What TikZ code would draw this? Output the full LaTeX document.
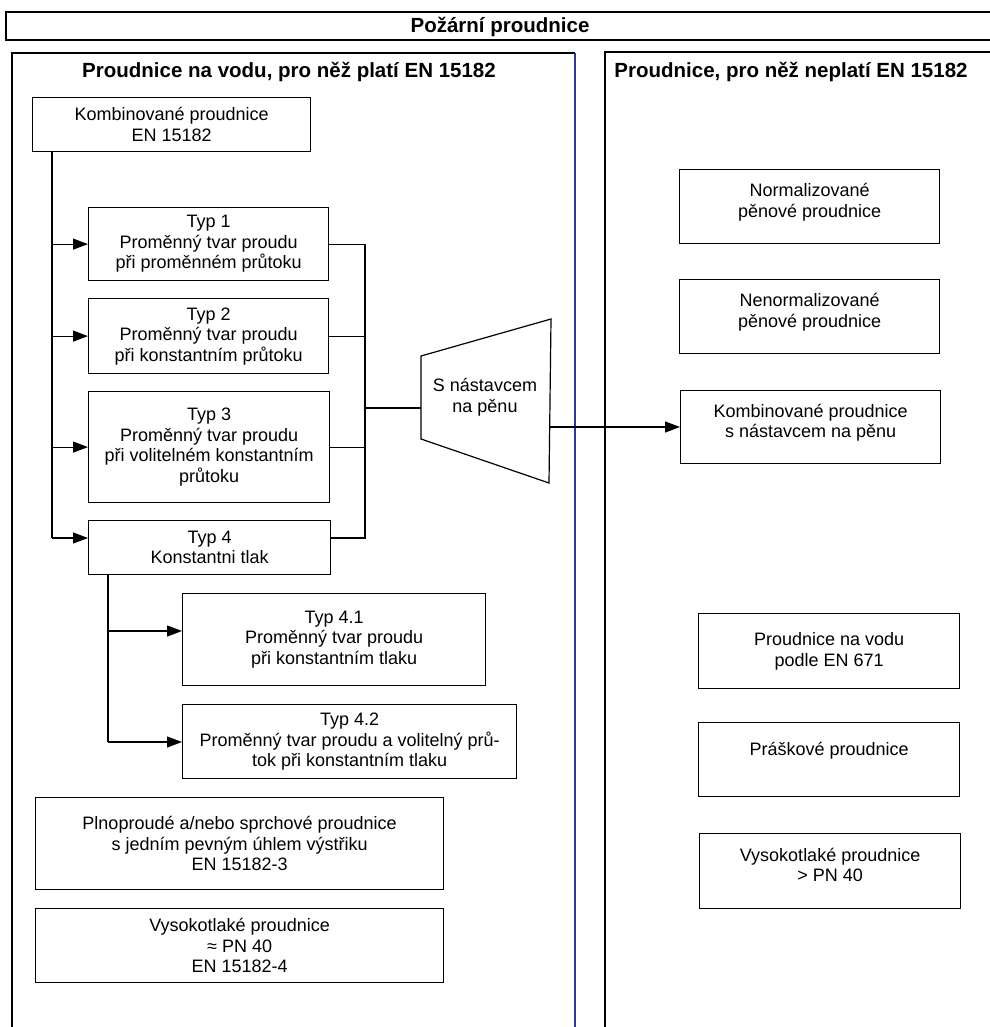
\documentclass[tikz,border=0pt]{standalone}
\usepackage{fontspec}
\setmainfont{Liberation Sans}
\usetikzlibrary{arrows.meta}
\definecolor{panelblue}{rgb}{0.18,0.22,0.55}
\begin{document}
\begin{tikzpicture}[x=1pt,y=-1pt,
  every node/.style={font=\fontsize{18}{20.5}\selectfont, align=center, inner sep=0pt},
  bx/.style 2 args={draw, line width=1.2pt, minimum width=#1, minimum height=#2, anchor=north west},
  ttl/.style={font=\fontsize{20.5}{24}\selectfont\bfseries},
  ln/.style={line width=1.2pt},
  arr/.style={line width=1.2pt, -{Triangle[length=15pt,width=11pt]}}
]
\useasboundingbox (0,0) rectangle (989,1027);

% frames
\draw[ln] (1000,12) -- (6,12) -- (6,40) -- (1000,40);
\draw[ln] (12,1035) -- (12,53) -- (575,53);
\draw[ln, panelblue] (575,53) -- (575,1035);
\draw[ln] (605,1035) -- (605,52) -- (1000,52);

\node[ttl] (title) at (500,27) {Požární proudnice};
\node[ttl] (ltitle) at (289,72) {Proudnice na vodu, pro něž platí EN 15182};
\node[ttl] (rtitle) at (791,72) {Proudnice, pro něž neplatí EN 15182};

% left boxes
\node[bx={278pt}{54pt}] (komb) at (32,97) {Kombinované proudnice\\EN 15182};
\node[bx={240pt}{73pt}] (typ1) at (88,207) {Typ 1\\Proměnný tvar proudu\\při proměnném průtoku};
\node[bx={240pt}{75pt}] (typ2) at (88,298) {Typ 2\\Proměnný tvar proudu\\při konstantním průtoku};
\node[bx={241pt}{111pt}] (typ3) at (88,391) {Typ 3\\Proměnný tvar proudu\\při volitelném konstantním\\průtoku};
\node[bx={242pt}{54pt}] (typ4) at (88,520) {Typ 4\\Konstantni tlak};
\node[bx={303pt}{92pt}] (typ41) at (182,593) {Typ 4.1\\Proměnný tvar proudu\\při konstantním tlaku};
\node[bx={334pt}{74pt}] (typ42) at (182,704) {Typ 4.2\\Proměnný tvar proudu a volitelný prů-\\tok při konstantním tlaku};
\node[bx={408pt}{92pt}] (pln) at (35,797) {Plnoproudé a/nebo sprchové proudnice\\s jedním pevným úhlem výstřiku\\EN 15182-3};
\node[bx={408pt}{74pt}] (vys1) at (35,908) {Vysokotlaké proudnice\\≈ PN 40\\EN 15182-4};

% right boxes
\node[bx={260pt}{74pt}] (norm) at (679,169) {Normalizované\\pěnové proudnice\\[-8pt]\mbox{}};
\node[bx={260pt}{74pt}] (nenorm) at (679,279) {Nenormalizované\\pěnové proudnice\\[-8pt]\mbox{}};
\node[bx={260pt}{73pt}] (kombp) at (680,390) {Kombinované proudnice\\s nástavcem na pěnu\\[-8pt]\mbox{}};
\node[bx={261pt}{75pt}] (en671) at (698,613) {Proudnice na vodu\\podle EN 671};
\node[bx={261pt}{74pt}] (prask) at (698,722) {Práškové proudnice\\\mbox{}};
\node[bx={261pt}{75pt}] (vys2) at (699,833) {Vysokotlaké proudnice\\> PN 40\\[-8pt]\mbox{}};

% foam attachment (trapezoid)
\coordinate (tl) at (421,356);
\coordinate (tr) at (551,319);
\coordinate (br) at (549,483);
\coordinate (bl) at (421,439);
\draw[ln] (tl) -- (tr) -- (br) -- (bl) -- cycle;
\node (trap) at (485,397) {S nástavcem\\na pěnu};
\coordinate (trapin) at (421,408);
\coordinate (trapout) at (550,427);

% left bus
\coordinate (busA) at (52,538);
\draw[ln] (komb.south -| busA) -- (busA);
\draw[arr] (typ1.west -| busA) -- (typ1.west);
\draw[arr] (typ2.west -| busA) -- (typ2.west);
\draw[arr] (typ3.west -| busA) -- (typ3.west);
\draw[arr] (busA) -- (busA -| typ4.west);

% right bus
\coordinate (rb) at (365,538);
\draw[ln] (typ1.east) -- (typ1.east -| rb) -- (rb) -- (typ4.east |- rb);
\draw[ln] (typ2.east) -- (typ2.east -| rb);
\draw[ln] (typ3.east) -- (typ3.east -| rb);
\draw[ln] (trapin -| rb) -- (trapin);
\draw[arr] (trapout) -- (trapout -| kombp.west);

% sub bus
\coordinate (sb) at (108,742);
\coordinate (sb41) at (108,631);
\draw[ln] (typ4.south -| sb) -- (sb);
\draw[arr] (sb41) -- (sb41 -| typ41.west);
\draw[arr] (sb) -- (sb -| typ42.west);
\end{tikzpicture}
\end{document}
